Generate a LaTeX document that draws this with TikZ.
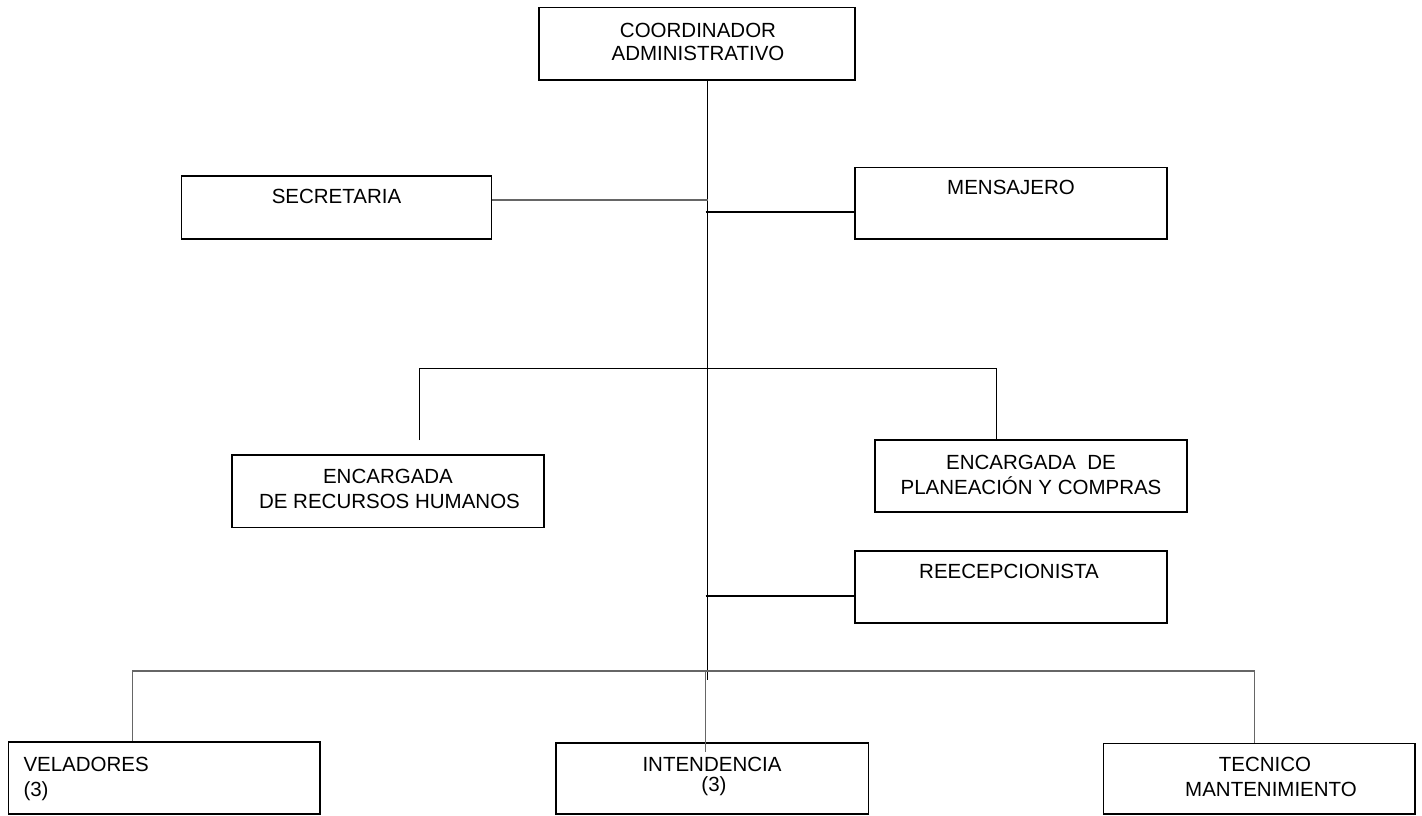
\documentclass[tikz,border=0pt]{standalone}
\usepackage{fontspec}
\setmainfont{Liberation Sans}
\begin{document}
\begin{tikzpicture}[x=1pt,y=-1pt,
  box/.style={draw=black,line width=1.7pt,rectangle,inner sep=0pt,
    minimum width=#1},
  box/.default=312pt,
  lbl/.style={anchor=base,inner sep=0pt,font=\fontsize{20.5}{24}\selectfont},
  lbll/.style={anchor=base west,inner sep=0pt,font=\fontsize{20.5}{24}\selectfont},
  thinln/.style={draw=black,line width=0.9pt},
  thickln/.style={draw=black,line width=1.5pt},
  grayln/.style={draw=black!60,line width=1.1pt}]
\useasboundingbox (0,0) rectangle (1422,815);

% boxes
\node[box=316pt,minimum height=72.5pt] (coord) at (697,43.75) {};
\node[box=310pt,minimum height=63pt]   (sec)   at (336.5,207.5) {};
\node[box,minimum height=71.7pt]       (mens)  at (1011,203.2) {};
\node[box,minimum height=72.3pt]       (rh)    at (388.3,491.2) {};
\node[box,minimum height=71.7pt]       (plan)  at (1031,475.9) {};
\node[box,minimum height=72.3pt]       (rec)   at (1011,586.9) {};
\node[box=311.7pt,minimum height=72pt] (vel)   at (164.2,778) {};
\node[box=312.3pt,minimum height=71.3pt] (intd) at (712.2,778.3) {};
\node[box=311.7pt,minimum height=70.7pt] (tec)  at (1259.2,778.7) {};

% texts
\node[lbl] (tCoordA) at (698,37) {COORDINADOR};
\node[lbl] (tCoordB) at (698,60.5) {ADMINISTRATIVO};
\node[lbl] (tSec) at (336.5,203) {SECRETARIA};
\node[lbl] (tMens) at (1011,194.3) {MENSAJERO};
\node[lbl] (tRhA) at (388,483) {ENCARGADA};
\node[lbl] (tRhB) at (389.5,508.5) {DE RECURSOS HUMANOS};
\node[lbl] (tPlanA) at (1031,469.3) {ENCARGADA\ \ DE};
\node[lbl] (tPlanB) at (1031,494) {PLANEACIÓN Y COMPRAS};
\node[lbl] (tRec) at (1009,578) {REECEPCIONISTA};
\node[lbll] (tVelA) at (23.3,771.7) {VELADORES};
\node[lbll] (tVelB) at (23.3,796) {(3)};
\node[lbl] (tIntA) at (712,771) {INTENDENCIA};
\node[lbl] (tIntB) at (714,791) {(3)};
\node[lbl] (tTecA) at (1265,771) {TECNICO};
\node[lbl] (tTecB) at (1271,796.7) {MANTENIMIENTO};

% junction points
\coordinate (tk)   at (707.7,680);
\coordinate (jSec) at (707.7,200);
\coordinate (jMen) at (705.5,212);
\coordinate (mL)   at (419,368);
\coordinate (mR)   at (996,368);
\coordinate (mLe)  at (419,440);
\coordinate (jRec) at (705.5,596);
\coordinate (bL)   at (132.7,671);
\coordinate (bR)   at (1254.3,671);
\coordinate (bM)   at (705.7,671);
\coordinate (bMe)  at (705.7,752);

% connectors
\draw[thinln] (coord.south -| tk) -- (tk);
\draw[grayln] (jSec -| sec.east) -- (jSec);
\draw[thickln] (jMen) -- (jMen -| mens.west);
\draw[thinln] (mLe) -- (mL) -- (mR) -- (mR |- plan.north);
\draw[thickln] (jRec) -- (jRec -| rec.west);
\draw[grayln] (vel.north -| bL) -- (bL) -- (bR) -- (tec.north -| bR);
\draw[grayln] (bM) -- (bMe);
\end{tikzpicture}
\end{document}
